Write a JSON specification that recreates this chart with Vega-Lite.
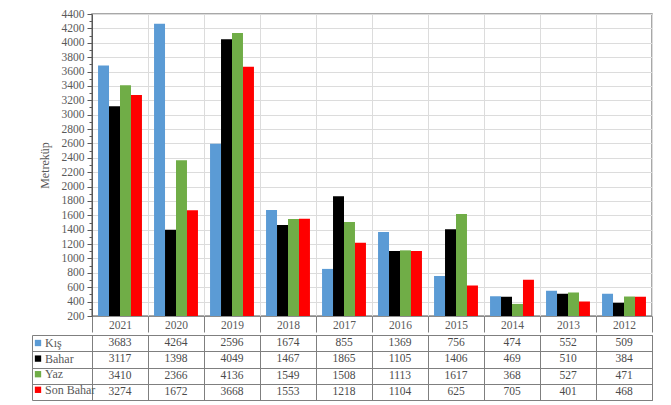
{
  "$schema": "https://vega.github.io/schema/vega-lite/v6.json",
  "padding": {"left": 31, "top": 7, "right": 12, "bottom": 4},
  "background": "white",
  "config": {
    "font": "Liberation Serif",
    "view": {"stroke": null},
    "axis": {"labelFont": "Liberation Serif", "titleFont": "Liberation Serif"},
    "legend": {"labelFont": "Liberation Serif"},
    "text": {"font": "Liberation Serif"}
  },
  "data": {
    "values": [
      {"year": "2021", "season": "Kış", "value": 3683},
      {"year": "2020", "season": "Kış", "value": 4264},
      {"year": "2019", "season": "Kış", "value": 2596},
      {"year": "2018", "season": "Kış", "value": 1674},
      {"year": "2017", "season": "Kış", "value": 855},
      {"year": "2016", "season": "Kış", "value": 1369},
      {"year": "2015", "season": "Kış", "value": 756},
      {"year": "2014", "season": "Kış", "value": 474},
      {"year": "2013", "season": "Kış", "value": 552},
      {"year": "2012", "season": "Kış", "value": 509},
      {"year": "2021", "season": "Bahar", "value": 3117},
      {"year": "2020", "season": "Bahar", "value": 1398},
      {"year": "2019", "season": "Bahar", "value": 4049},
      {"year": "2018", "season": "Bahar", "value": 1467},
      {"year": "2017", "season": "Bahar", "value": 1865},
      {"year": "2016", "season": "Bahar", "value": 1105},
      {"year": "2015", "season": "Bahar", "value": 1406},
      {"year": "2014", "season": "Bahar", "value": 469},
      {"year": "2013", "season": "Bahar", "value": 510},
      {"year": "2012", "season": "Bahar", "value": 384},
      {"year": "2021", "season": "Yaz", "value": 3410},
      {"year": "2020", "season": "Yaz", "value": 2366},
      {"year": "2019", "season": "Yaz", "value": 4136},
      {"year": "2018", "season": "Yaz", "value": 1549},
      {"year": "2017", "season": "Yaz", "value": 1508},
      {"year": "2016", "season": "Yaz", "value": 1113},
      {"year": "2015", "season": "Yaz", "value": 1617},
      {"year": "2014", "season": "Yaz", "value": 368},
      {"year": "2013", "season": "Yaz", "value": 527},
      {"year": "2012", "season": "Yaz", "value": 471},
      {"year": "2021", "season": "Son Bahar", "value": 3274},
      {"year": "2020", "season": "Son Bahar", "value": 1672},
      {"year": "2019", "season": "Son Bahar", "value": 3668},
      {"year": "2018", "season": "Son Bahar", "value": 1553},
      {"year": "2017", "season": "Son Bahar", "value": 1218},
      {"year": "2016", "season": "Son Bahar", "value": 1104},
      {"year": "2015", "season": "Son Bahar", "value": 625},
      {"year": "2014", "season": "Son Bahar", "value": 705},
      {"year": "2013", "season": "Son Bahar", "value": 401},
      {"year": "2012", "season": "Son Bahar", "value": 468}
    ]
  },
  "spacing": 0,
  "resolve": {"scale": {"color": "shared"}, "legend": {"color": "independent"}},
  "vconcat": [
    {
      "width": 560,
      "height": 302,
      "view": {"stroke": "#8c8c8c", "strokeWidth": 1.5},
      "mark": {"type": "bar"},
      "encoding": {
        "x": {
          "field": "year", "type": "ordinal",
          "sort": ["2021", "2020", "2019", "2018", "2017", "2016", "2015", "2014", "2013", "2012"],
          "scale": {"paddingInner": 0, "paddingOuter": 0},
          "axis": {
            "title": null, "labelAngle": 0, "tickBand": "extent", "tickSize": 16,
            "tickColor": "#7f7f7f", "labelPadding": -13, "labelFontSize": 11.5,
            "labelFont": "Liberation Serif",
            "labelColor": "#595959", "domainColor": "#8c8c8c",
            "grid": true, "gridColor": "#dcdcdc"
          }
        },
        "xOffset": {
          "field": "season", "type": "nominal",
          "sort": ["Kış", "Bahar", "Yaz", "Son Bahar"],
          "scale": {"paddingInner": 0, "paddingOuter": 0.55}
        },
        "y": {
          "field": "value", "type": "quantitative",
          "scale": {"domain": [200, 4400], "nice": false, "zero": false},
          "axis": {
            "values": [200, 300, 400, 500, 600, 700, 800, 900, 1000, 1100, 1200, 1300, 1400, 1500, 1600, 1700, 1800, 1900, 2000, 2100, 2200, 2300, 2400, 2500, 2600, 2700, 2800, 2900, 3000, 3100, 3200, 3300, 3400, 3500, 3600, 3700, 3800, 3900, 4000, 4100, 4200, 4300, 4400],
            "format": "d",
            "labelExpr": "datum.value % 200 == 0 ? datum.label : ''",
            "labelOverlap": false,
            "labelFont": "Liberation Serif",
            "labelFontSize": 11.5, "labelColor": "#595959", "labelPadding": 3,
            "tickSize": {"condition": {"test": "datum.value % 200 == 0", "value": 5}, "value": 3},
            "tickColor": "#595959", "domainColor": "#595959",
            "grid": true, "gridColor": "#dcdcdc",
            "gridOpacity": {"condition": {"test": "datum.value % 200 == 0", "value": 1}, "value": 0},
            "title": "Metreküp", "titleFont": "Liberation Serif", "titleFontSize": 12, "titleFontWeight": "normal",
            "titleColor": "#595959", "titlePadding": 10
          }
        },
        "y2": {"datum": 200},
        "color": {
          "field": "season", "type": "nominal",
          "scale": {"domain": ["Kış", "Bahar", "Yaz", "Son Bahar"], "range": ["#5b9bd5", "#000000", "#70ad47", "#ff0000"]},
          "legend": null
        }
      }
    },
    {
      "width": 560,
      "height": 65,
      "view": {"stroke": "#7f7f7f"},
      "encoding": {
        "x": {
          "field": "year", "type": "ordinal",
          "sort": ["2021", "2020", "2019", "2018", "2017", "2016", "2015", "2014", "2013", "2012"],
          "scale": {"paddingInner": 0, "paddingOuter": 0},
          "axis": {"title": null, "labels": false, "ticks": false, "domain": false, "grid": true, "tickBand": "extent", "gridColor": "#7f7f7f"}
        },
        "y": {
          "field": "season", "type": "nominal",
          "sort": ["Kış", "Bahar", "Yaz", "Son Bahar"],
          "scale": {"paddingInner": 0, "paddingOuter": 0},
          "axis": {"title": null, "labels": false, "grid": false, "tickBand": "extent", "offset": 60, "tickSize": -620, "tickColor": "#7f7f7f", "domainColor": "#7f7f7f"}
        }
      },
      "layer": [
        {
          "mark": {"type": "text", "fontSize": 11.5, "color": "#4a4a4a", "font": "Liberation Serif"},
          "encoding": {"text": {"field": "value", "type": "quantitative", "format": "d"}}
        },
        {
          "mark": {"type": "point", "shape": "square", "filled": true, "opacity": 0},
          "encoding": {
            "color": {
              "field": "season", "type": "nominal",
              "scale": {"domain": ["Kış", "Bahar", "Yaz", "Son Bahar"], "range": ["#5b9bd5", "#000000", "#70ad47", "#ff0000"]},
              "legend": {
                "orient": "none", "legendX": -60, "legendY": 2, "title": null,
                "symbolType": "square", "symbolSize": 40, "symbolOpacity": 1, "symbolStrokeWidth": 0,
                "labelFont": "Liberation Serif",
                "labelFontSize": 12, "labelColor": "#595959", "labelOffset": 1,
                "rowPadding": 3.6, "padding": 0, "offset": 0
              }
            }
          }
        }
      ]
    }
  ]
}
